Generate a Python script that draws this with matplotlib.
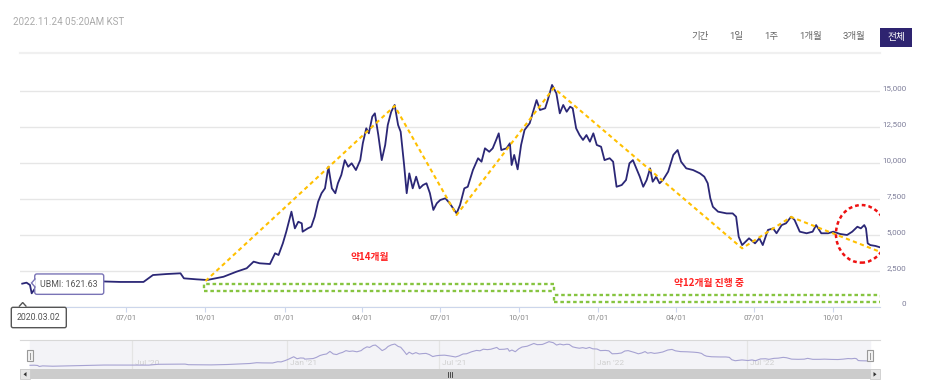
import numpy as np
import pandas as pd
import matplotlib
matplotlib.use("Agg")
import matplotlib.pyplot as plt
import matplotlib.dates as mdates
import matplotlib.transforms as mtransforms
from matplotlib.patches import Ellipse, Rectangle, Polygon
from matplotlib.lines import Line2D

plt.rcParams['font.family'] = ['Roboto', 'Noto Sans CJK KR', 'DejaVu Sans']

# UBMI index
dates = [
    '2020-03-02', '2020-03-07', '2020-03-11', '2020-03-13', '2020-03-17', '2020-03-29',
    '2020-04-15', '2020-05-02', '2020-05-23', '2020-05-29', '2020-06-24', '2020-07-21',
    '2020-08-01', '2020-08-17', '2020-09-02', '2020-09-06', '2020-09-21', '2020-10-03',
    '2020-10-22', '2020-11-06', '2020-11-18', '2020-11-26', '2020-12-03', '2020-12-15',
    '2020-12-21', '2020-12-25',
    '2020-12-30', '2021-01-03', '2021-01-09', '2021-01-13', '2021-01-17', '2021-01-21',
    '2021-01-22', '2021-01-28', '2021-02-01', '2021-02-05', '2021-02-09', '2021-02-13',
    '2021-02-17', '2021-02-21', '2021-02-25', '2021-03-01', '2021-03-04', '2021-03-08',
    '2021-03-12', '2021-03-16', '2021-03-20', '2021-03-25', '2021-03-30', '2021-04-02',
    '2021-04-06', '2021-04-09', '2021-04-13', '2021-04-16', '2021-04-20', '2021-04-24',
    '2021-04-28', '2021-05-01', '2021-05-05', '2021-05-09', '2021-05-13', '2021-05-16',
    '2021-05-20', '2021-05-23', '2021-05-26', '2021-05-30', '2021-06-03', '2021-06-07',
    '2021-06-11', '2021-06-15', '2021-06-19', '2021-06-23', '2021-06-27', '2021-07-01',
    '2021-07-07', '2021-07-12', '2021-07-20', '2021-07-24', '2021-07-29', '2021-08-02',
    '2021-08-08', '2021-08-14', '2021-08-18', '2021-08-22', '2021-08-27', '2021-08-31',
    '2021-09-04', '2021-09-07', '2021-09-10', '2021-09-16', '2021-09-20', '2021-09-22',
    '2021-09-25', '2021-09-29', '2021-10-03', '2021-10-07', '2021-10-13', '2021-10-17',
    '2021-10-21', '2021-10-25', '2021-10-31', '2021-11-03', '2021-11-08', '2021-11-13',
    '2021-11-17', '2021-11-21', '2021-11-25', '2021-11-29', '2021-12-02', '2021-12-06',
    '2021-12-10', '2021-12-14', '2021-12-18', '2021-12-22', '2021-12-26', '2021-12-30',
    '2022-01-04', '2022-01-08', '2022-01-14', '2022-01-18', '2022-01-22', '2022-01-28',
    '2022-02-02', '2022-02-06', '2022-02-10', '2022-02-14', '2022-02-18', '2022-02-22',
    '2022-02-26', '2022-03-02', '2022-03-05', '2022-03-09', '2022-03-13', '2022-03-17',
    '2022-03-23', '2022-03-29', '2022-04-03', '2022-04-07', '2022-04-13', '2022-04-21',
    '2022-04-29', '2022-05-04', '2022-05-08', '2022-05-11', '2022-05-14', '2022-05-20',
    '2022-05-30', '2022-06-06', '2022-06-10', '2022-06-13', '2022-06-17',
    '2022-06-25', '2022-07-02', '2022-07-07', '2022-07-11', '2022-07-17', '2022-07-23',
    '2022-07-27', '2022-08-02', '2022-08-07', '2022-08-13', '2022-08-17', '2022-08-23',
    '2022-08-31', '2022-09-07', '2022-09-11', '2022-09-17', '2022-09-25', '2022-10-01',
    '2022-10-09', '2022-10-17', '2022-10-23', '2022-10-29', '2022-11-02', '2022-11-06',
    '2022-11-08', '2022-11-10', '2022-11-13', '2022-11-19', '2022-11-24',
]
values = [
    1622, 1690, 1530, 950, 1300, 1100,
    1300, 1450, 1700, 1785, 1740, 1740,
    2220, 2290, 2340, 1990, 1920, 1875,
    2100, 2450, 2690, 3150, 3035, 2985,
    3730, 3610,
    4420, 5230, 6620, 5460, 5920, 5810,
    5230, 5460, 5575, 6270, 7310, 7900,
    8240, 9740, 8240, 7900, 8590, 9170,
    10200, 9740, 9980, 9510, 10200, 11370,
    12410, 12060, 13220, 13450, 11940, 10200,
    11250, 12640, 13560, 14030, 12640, 12170,
    9860, 7900, 9280, 8240, 9050, 8240,
    8470, 8590, 7900, 6740, 7200, 7430,
    7550, 7200, 6500, 7080, 8240, 8350,
    9510, 10330, 10090, 11020, 10780, 11020,
    11600, 12060, 10900, 11020, 11370, 9860,
    10560, 9560, 11250, 12290, 12760, 13560,
    14370, 13680, 13800, 14370, 15420, 14840,
    13450, 14030, 13560, 13910, 13800, 12410,
    11940, 11600, 11940, 11480, 12060, 11250,
    11130, 10200, 10330, 10090, 8350, 8470,
    8820, 9980, 10200, 9630, 9050, 8350,
    8820, 9630, 8700, 9050, 8590, 8820,
    9400, 10560, 10900, 10090, 9630, 9510,
    9280, 9050, 8590, 7550, 6960, 6620,
    6500, 6500, 6270, 4880, 4300,
    4770, 4420, 4770, 4300, 5350, 5460,
    5120, 5690, 5810, 6270, 6040, 5230,
    5120, 5230, 5690, 5120, 5120, 5230,
    5070, 5000, 5230, 5575, 5460, 5690,
    5460, 4420, 4300, 4240, 4150,
]

# yellow trend zig-zag
trend_dates = ['2020-10-01', '2021-05-09', '2021-07-20', '2021-11-10',
               '2022-06-17', '2022-08-13', '2022-11-24']
trend_values = [1800, 13960, 6390, 15210, 4075, 6250, 3840]

# green cycle boxes
cycle_starts = ['2020-09-29', '2021-11-10']
cycle_ends = ['2021-11-10', '2022-11-25']
cycle_low = [1110, 350]
cycle_high = [1600, 830]
cycle_labels = ['약14개월', '약12개월 진행 중']

y_ticks = [0, 2500, 5000, 7500, 10000, 12500, 15000]
range_buttons = ['기간', '1일', '1주', '1개월', '3개월', '전체']
nav_labels = ["Jul '20", "Jan '21", "Jul '21", "Jan '22", "Jul '22"]
nav_label_dates = ['2020-07-01', '2021-01-01', '2021-07-01', '2022-01-01', '2022-07-01']

W, H = 936, 391
dt = pd.to_datetime(dates)
tdt = pd.to_datetime(trend_dates)

fig = plt.figure(figsize=(W / 100, H / 100), dpi=100)


def fx(x):
    return x / W


def fy(y):
    return 1 - y / H


# ---- main chart
ax = fig.add_axes([fx(20), fy(307), (880 - 20) / W, (307 - 69.4) / H])
ax.plot(dt, values, color='#2b2776', lw=1.3, zorder=3)

x0 = mdates.date2num(pd.Timestamp('2020-07-01'))
ax.set_xlim(x0 + (20 - 126.3) / 0.8601, x0 + (880 - 126.3) / 0.8601)
ax.set_ylim(0, 16500)

ax.set_yticks(y_ticks)
ax.set_yticklabels([f'{v:,}' for v in y_ticks])
ax.yaxis.tick_right()
ax.tick_params(axis='y', length=0, pad=18.7, labelsize=5.8, labelcolor='#7d7d99')
for lab in ax.get_yticklabels():
    lab.set_ha('right')
    lab.set_va('bottom')
ax.grid(axis='y', color='#e6e6e6', lw=1)
ax.set_axisbelow(True)

# 04/01 (2020) sits under the date tooltip, so ticks start at 07/01
ax.set_xticks(pd.date_range('2020-07-01', '2022-10-01', freq='QS'))
ax.xaxis.set_major_formatter(mdates.DateFormatter('%m/%d'))
ax.tick_params(axis='x', length=3.6, width=0.8, color='#ccd6eb', pad=1.5,
               labelsize=5.8, labelcolor='#888888')
for s in ['top', 'left', 'right']:
    ax.spines[s].set_visible(False)
ax.spines['bottom'].set_color('#ccd6eb')

# trend lines
ax.plot(tdt, trend_values, color='#ffc000', lw=1.5, ls=(0, (2, 1.6)), zorder=4)

# cycle boxes + labels
for s, e, lo, hi in zip(cycle_starts, cycle_ends, cycle_low, cycle_high):
    x_s = mdates.date2num(pd.Timestamp(s))
    x_e = mdates.date2num(pd.Timestamp(e))
    ax.add_patch(Rectangle((x_s, lo), x_e - x_s, hi - lo, fill=False,
                           ec='#86c440', lw=1.7, ls=(0, (1.5, 1.2)), zorder=4))

ax.text(pd.Timestamp('2021-04-10'), 3490, cycle_labels[0], color='#ff2222',
        fontsize=7, fontweight='bold', ha='center', va='center',
        family=['Noto Sans CJK KR', 'DejaVu Sans'])
ax.text(pd.Timestamp('2022-05-09'), 1690, cycle_labels[1], color='#ff2222',
        fontsize=7, fontweight='bold', ha='center', va='center',
        family=['Noto Sans CJK KR', 'DejaVu Sans'])

# red circle around last drop
ax.add_patch(Ellipse((mdates.date2num(pd.Timestamp('2022-11-02 14:00')), 5080), 59, 4000,
                     fill=False, ec='#ee1111', lw=1.8, ls=(0, (1.5, 1.2)), zorder=5))

# ---- tooltips
ax.annotate('UBMI: 1621.63',
            xy=(dt[0], values[0]), xytext=(47, -0.5), textcoords='offset pixels',
            ha='center', va='center', fontsize=6.3, color='#555555', zorder=10,
            bbox=dict(boxstyle='round,pad=0.65,rounding_size=0.25', fc='white',
                      ec='#7a74b6', lw=1))
fig.add_artist(Polygon([(fx(35.5), fy(278.5)), (fx(31.5), fy(283)), (fx(35.5), fy(287.5))],
                       closed=False, fc='white', ec='#7a74b6', lw=1, zorder=11))

fig.text(fx(38.8), fy(317.5), '2020.03.02', ha='center', va='center', fontsize=6.3,
         color='#555555', zorder=10,
         bbox=dict(boxstyle='round,pad=0.65,rounding_size=0.2', fc='white',
                   ec='#555555', lw=1))
fig.add_artist(Polygon([(fx(19), fy(306.6)), (fx(22.7), fy(302.5)), (fx(26.4), fy(306.6))],
                       closed=False, fc='white', ec='#555555', lw=1, zorder=11))

# ---- header
fig.text(fx(13), fy(22.3), '2022.11.24 05:20AM KST', ha='left', va='center',
         fontsize=7, color='#aaaaaa')
fig.add_artist(Line2D([fx(20), fx(880)], [fy(53.3)] * 2, color='#f0f0f0', lw=1.6))
button_x = [700, 736.7, 771.7, 811, 854, 896]
for lab, bx in zip(range_buttons, button_x):
    if lab == '전체':
        fig.add_artist(Rectangle((fx(880), fy(46.7)), 32 / W, 18.4 / H,
                                 transform=fig.transFigure, fc='#2e2470', ec='none'))
        fig.text(fx(bx), fy(37), lab, ha='center', va='center', fontsize=7,
                 color='white', family=['Noto Sans CJK KR', 'DejaVu Sans'])
    else:
        fig.text(fx(bx), fy(37), lab, ha='center', va='center', fontsize=6.8,
                 color='#666666', family=['Roboto', 'Noto Sans CJK KR', 'DejaVu Sans'])

# ---- navigator
nav = fig.add_axes([fx(20), fy(369.3), 860 / W, 29.3 / H])
n0 = mdates.date2num(pd.Timestamp('2020-03-02'))
n1 = mdates.date2num(pd.Timestamp('2022-11-24'))
ppd = 840 / (n1 - n0)
nav.set_xlim(n0 - 10 / ppd, n1 + 10 / ppd)
nav.set_ylim(-700, 16400)
nav.set_facecolor('white')
nav.axvspan(n0, n1, color='#f3f3f7', zorder=0)
nav.plot(dt, values, color='#a6a2d2', lw=0.8, zorder=3)
nav_tr = mtransforms.offset_copy(nav.get_xaxis_transform(), fig=fig, x=3, y=0, units='dots')
for lab, d in zip(nav_labels, nav_label_dates):
    nav.axvline(pd.Timestamp(d), color='#e4e4e4', lw=0.9, zorder=1)
    nav.text(pd.Timestamp(d), 0.2, lab, transform=nav_tr, ha='left', va='center',
             fontsize=6, color='#d0d0d0', zorder=2)
nav.set_xticks([])
nav.set_yticks([])
for s in ['bottom', 'left', 'right']:
    nav.spines[s].set_visible(False)
nav.spines['top'].set_color('#d8d8d8')

# handles
for hx in [30, 870]:
    fig.add_artist(Rectangle((fx(hx - 3), fy(360.7)), 6 / W, 10.7 / H,
                             transform=fig.transFigure, fc='#f2f2f2', ec='#999999', lw=0.8))
    fig.add_artist(Line2D([fx(hx), fx(hx)], [fy(358.5), fy(352.5)], color='#999999', lw=0.7))

# scrollbar
fig.add_artist(Rectangle((fx(20), fy(379.3)), 860 / W, 10 / H,
                         transform=fig.transFigure, fc='#cccccc', ec='none'))
for bx in [20, 870]:
    fig.add_artist(Rectangle((fx(bx), fy(379.3)), 10 / W, 10 / H,
                             transform=fig.transFigure, fc='#e6e6e6', ec='#cccccc', lw=0.6))
fig.add_artist(Polygon([(fx(26.5), fy(372)), (fx(23.5), fy(374.3)), (fx(26.5), fy(376.6))],
                       closed=True, fc='#333333', ec='none'))
fig.add_artist(Polygon([(fx(873.5), fy(372)), (fx(876.5), fy(374.3)), (fx(873.5), fy(376.6))],
                       closed=True, fc='#333333', ec='none'))
for gx in [448, 450, 452]:
    fig.add_artist(Line2D([fx(gx), fx(gx)], [fy(372), fy(376.6)], color='#333333', lw=0.6))

fig.savefig('out.png', dpi=100)
